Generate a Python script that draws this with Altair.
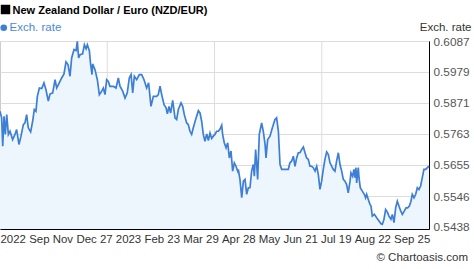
import json
import altair as alt
import pandas as pd

# ---- data ----
# day offset from the first observation (late Sep 2022), NZD/EUR rate
day = [0.0, 1.4, 2.3, 3.4, 4.5, 5.7, 7.1, 8.5, 10.7, 12.7, 14.1, 16.1, 17.8, 19.8, 21.2, 22.6, 24.0, 26.0, 27.7, 29.1,
       30.5, 31.7, 33.4, 35.4, 37.3, 39.0, 41.0, 42.4, 44.7, 46.7, 48.1, 50.3, 52.3, 54.3, 56.0, 57.7, 59.4, 60.8, 62.8, 64.5,
       65.6, 66.7, 67.9, 70.1, 71.6, 73.0, 74.1, 75.8, 76.9, 78.1, 78.6, 80.6, 82.6, 84.3, 86.3, 87.7, 89.1, 90.5, 91.9, 93.3,
       96.2, 98.4, 100.4, 101.8, 104.1, 106.1, 108.0, 109.7, 111.2, 112.6, 114.0, 116.0, 118.2, 120.2, 122.2, 124.4, 126.1,
       128.1, 130.1, 132.9, 134.3, 135.8, 137.2, 139.2, 140.9, 142.0, 143.4, 144.8, 146.5, 148.5, 149.9, 151.3, 153.6, 155.0,
       156.4, 158.4, 159.8, 161.2, 162.6, 164.0, 166.0, 168.3, 169.7, 171.1, 172.5, 173.9, 175.4, 176.8, 178.2, 179.6, 181.0,
       182.4, 183.8, 185.3, 186.7, 188.1, 188.9, 190.3, 191.8, 193.2, 194.6, 196.0, 197.4, 198.8, 200.2, 201.7, 202.2, 203.6,
       205.1, 206.5, 207.9, 209.3, 210.7, 212.1, 213.5, 214.9, 215.8, 216.9, 217.8, 218.6, 220.0, 222.0, 223.4, 224.9, 225.7,
       227.1, 229.1, 231.1, 233.3, 234.7, 236.2, 237.6, 239.0, 241.3,
       243.2, 244.6, 246.0, 247.5, 248.9, 250.3, 251.7, 253.1, 254.5, 255.9, 257.4, 258.8, 260.2, 261.6, 263.0, 264.4, 265.8,
       267.3, 268.7, 270.1, 271.5, 272.9, 274.3, 275.7, 277.2, 278.6, 280.0, 281.4, 282.8, 284.2, 285.6, 287.1, 288.5, 289.9,
       291.3, 292.7, 294.1, 295.5, 297.0, 297.8, 299.2, 300.3, 301.2, 302.0, 302.6, 304.0, 304.6, 305.7, 307.4, 309.1, 310.2,
       311.1, 312.5, 313.9, 314.8, 315.9, 317.6, 319.6, 321.6, 323.3, 324.4, 325.8, 327.2, 328.9, 330.0, 331.7, 332.9, 334.3,
       335.7, 337.1, 338.5, 340.0, 341.4, 343.1, 344.5, 345.9, 347.3, 348.7, 349.8, 351.3, 352.7, 354.1, 355.5, 356.9, 358.3,
       359.7, 361.2, 362.6, 364.0]
rate = [0.5842, 0.5819, 0.5720, 0.5824, 0.5761, 0.5830, 0.5761, 0.5772, 0.5743, 0.5761, 0.5778, 0.5726, 0.5755, 0.5795,
        0.5801, 0.5830, 0.5784, 0.5770, 0.5807, 0.5848, 0.5842, 0.5894, 0.5923, 0.5921, 0.5941, 0.5917, 0.5877, 0.5902,
        0.5906, 0.5952, 0.5923, 0.5941, 0.5958, 0.5972, 0.6014, 0.6005, 0.5964, 0.6028, 0.6057, 0.6053, 0.6086, 0.6028,
        0.6039, 0.6042, 0.6074, 0.6060, 0.6074, 0.6053, 0.6005, 0.5970, 0.6007, 0.5987, 0.5952, 0.5900, 0.5912, 0.5923,
        0.5900, 0.5952, 0.5946, 0.5929, 0.5929, 0.5923, 0.5958, 0.5929, 0.5912, 0.5888, 0.5906, 0.5958, 0.5970, 0.5906,
        0.5964, 0.5952, 0.5970, 0.5970, 0.5952, 0.5923, 0.5941,
        0.5859, 0.5894, 0.5894, 0.5900, 0.5929, 0.5900, 0.5865, 0.5854, 0.5833, 0.5859, 0.5836, 0.5880, 0.5819, 0.5813,
        0.5848, 0.5871, 0.5859, 0.5830, 0.5801, 0.5795, 0.5772, 0.5761, 0.5784, 0.5813, 0.5844, 0.5836, 0.5807, 0.5761,
        0.5737, 0.5763, 0.5740, 0.5766, 0.5747, 0.5755, 0.5761, 0.5772, 0.5772, 0.5780, 0.5793, 0.5761, 0.5732, 0.5714,
        0.5732, 0.5679, 0.5703, 0.5633, 0.5662, 0.5650, 0.5633, 0.5639, 0.5604, 0.5540, 0.5598, 0.5604, 0.5552, 0.5575,
        0.5575, 0.5633, 0.5656, 0.5615, 0.5708, 0.5656, 0.5604, 0.5761, 0.5801, 0.5772, 0.5726, 0.5679, 0.5743, 0.5755,
        0.5784, 0.5813, 0.5819, 0.5772, 0.5656, 0.5639, 0.5639,
        0.5639, 0.5639, 0.5662, 0.5668, 0.5685, 0.5650, 0.5679, 0.5697, 0.5697, 0.5708, 0.5717, 0.5697, 0.5679, 0.5674,
        0.5650, 0.5650, 0.5645, 0.5633, 0.5650, 0.5621, 0.5569, 0.5598, 0.5639, 0.5674, 0.5700, 0.5691, 0.5662, 0.5650,
        0.5639, 0.5633, 0.5668, 0.5697, 0.5656, 0.5633, 0.5604, 0.5598, 0.5586, 0.5557, 0.5598, 0.5627, 0.5615, 0.5639,
        0.5610, 0.5645, 0.5592, 0.5645, 0.5610, 0.5575, 0.5563, 0.5552, 0.5540, 0.5552, 0.5534, 0.5517, 0.5511, 0.5476,
        0.5482, 0.5470, 0.5459, 0.5449, 0.5447, 0.5465, 0.5499, 0.5488, 0.5476, 0.5465, 0.5482, 0.5453, 0.5505, 0.5528,
        0.5511, 0.5494, 0.5482, 0.5494, 0.5505, 0.5505, 0.5511, 0.5528, 0.5552, 0.5540, 0.5552, 0.5575, 0.5569, 0.5581,
        0.5610, 0.5639, 0.5639, 0.5645, 0.5650]

x_labels = ["2022", "Sep", "Nov", "Dec 27", "2023", "Feb 23", "Mar 29", "Apr 28", "May", "Jun 21", "Jul 19",
            "Aug 22", "Sep 25"]
x_label_days = [10.8, 33.0, 52.9, 79.8, 108.6, 137.2, 170.1, 202.2, 228.2, 254.7, 284.9, 315.9, 349.3]
quarter_days = [91, 182, 273]
y_ticks = [0.5438, 0.5546, 0.5655, 0.5763, 0.5871, 0.5979, 0.6087]
X_DOMAIN = [0, 364]
Y_DOMAIN = [0.5431, 0.6087]

TITLE = "New Zealand Dollar / Euro (NZD/EUR)"
SERIES = "Exch. rate"
CREDIT = "\u00a9 Chartoasis.com"

LINE_COLOR = "#3d7fd6"
FILL_COLOR = "#edf5fd"
GRID_COLOR = "#dddddd"
FONT = "Liberation Sans"

df = pd.DataFrame({"day": day, "rate": rate, "series": SERIES})

label_expr = f"{json.dumps(x_labels)}[indexof({json.dumps(x_label_days)}, datum.value)]"

x_scale = alt.Scale(domain=X_DOMAIN, nice=False, zero=False)
y_scale = alt.Scale(domain=Y_DOMAIN, nice=False, zero=False)

x_axis = alt.Axis(values=x_label_days, labelExpr=label_expr, title=None, grid=False, ticks=False,
                  domain=True, domainColor="black", domainWidth=1, labelFont=FONT, labelFontSize=11.45,
                  labelColor="#333333", labelPadding=4, labelFlush=False, labelOverlap=False, labelBound=False)
y_axis = alt.Axis(orient="right", values=y_ticks, format=".4f", title=SERIES, titleAngle=0, titleAlign="right",
                  titleBaseline="alphabetic", titleX=42, titleY=-11, titleFont=FONT, titleFontSize=11.5,
                  titleFontWeight="normal", titleColor="#333333", grid=True, gridColor=GRID_COLOR, gridWidth=1,
                  ticks=False, domain=True, domainColor="black", domainWidth=1, labelAlign="left",
                  labelBaseline="middle", labelPadding=4, labelFont=FONT, labelFontSize=11.8,
                  labelColor="#555555", labelFlush=False, labelOverlap=False)

vgrid = alt.Chart(pd.DataFrame({"qd": quarter_days})).mark_rule(color=GRID_COLOR, strokeWidth=1).encode(
    x=alt.X("qd:Q", scale=x_scale, axis=x_axis)
)

base = alt.Chart(df)
area = base.mark_area(color=FILL_COLOR, opacity=1).encode(
    x=alt.X("day:Q", scale=x_scale, axis=x_axis),
    y=alt.Y("rate:Q", scale=y_scale, axis=y_axis),
    y2=alt.datum(Y_DOMAIN[0]),
)
line = base.mark_line(strokeWidth=1.7).encode(
    x=alt.X("day:Q", scale=x_scale, axis=x_axis),
    y=alt.Y("rate:Q", scale=y_scale, axis=y_axis),
    color=alt.Color("series:N", scale=alt.Scale(range=[LINE_COLOR]),
                    legend=alt.Legend(title=None, orient="none", legendX=-2, legendY=-19, symbolType="circle",
                                      symbolSize=44, symbolFillColor=LINE_COLOR, symbolStrokeWidth=0,
                                      symbolOffset=0, labelOffset=0, padding=0, labelFont=FONT,
                                      labelFontSize=11.5, labelColor="#4a8ad8")),
)

title_df = pd.DataFrame({"t": [TITLE]})
title_sq = alt.Chart(title_df).mark_square(color="black", size=90, opacity=1).encode(
    x=alt.value(5.5), y=alt.value(-31.5)
)
title_txt = alt.Chart(title_df).mark_text(align="left", baseline="alphabetic", font=FONT, fontSize=11,
                                          fontWeight="bold", color="black").encode(
    x=alt.value(12.5), y=alt.value(-27), text="t:N"
)
credit = alt.Chart(pd.DataFrame({"t": [CREDIT]})).mark_text(align="right", baseline="alphabetic", font=FONT,
                                                           fontSize=11.5, color="#333333").encode(
    x=alt.value(468), y=alt.value(220), text="t:N"
)

chart = alt.layer(vgrid, area, line, title_sq, title_txt, credit).properties(
    width=429, height=188,
    autosize=alt.AutoSizeParams(type="none"),
    padding={"left": 0, "top": 41, "right": 45, "bottom": 40},
    background="white",
).configure_view(stroke="#cccccc", strokeWidth=1)

chart.save("out.html", embed_options={"renderer": "svg", "actions": False})
